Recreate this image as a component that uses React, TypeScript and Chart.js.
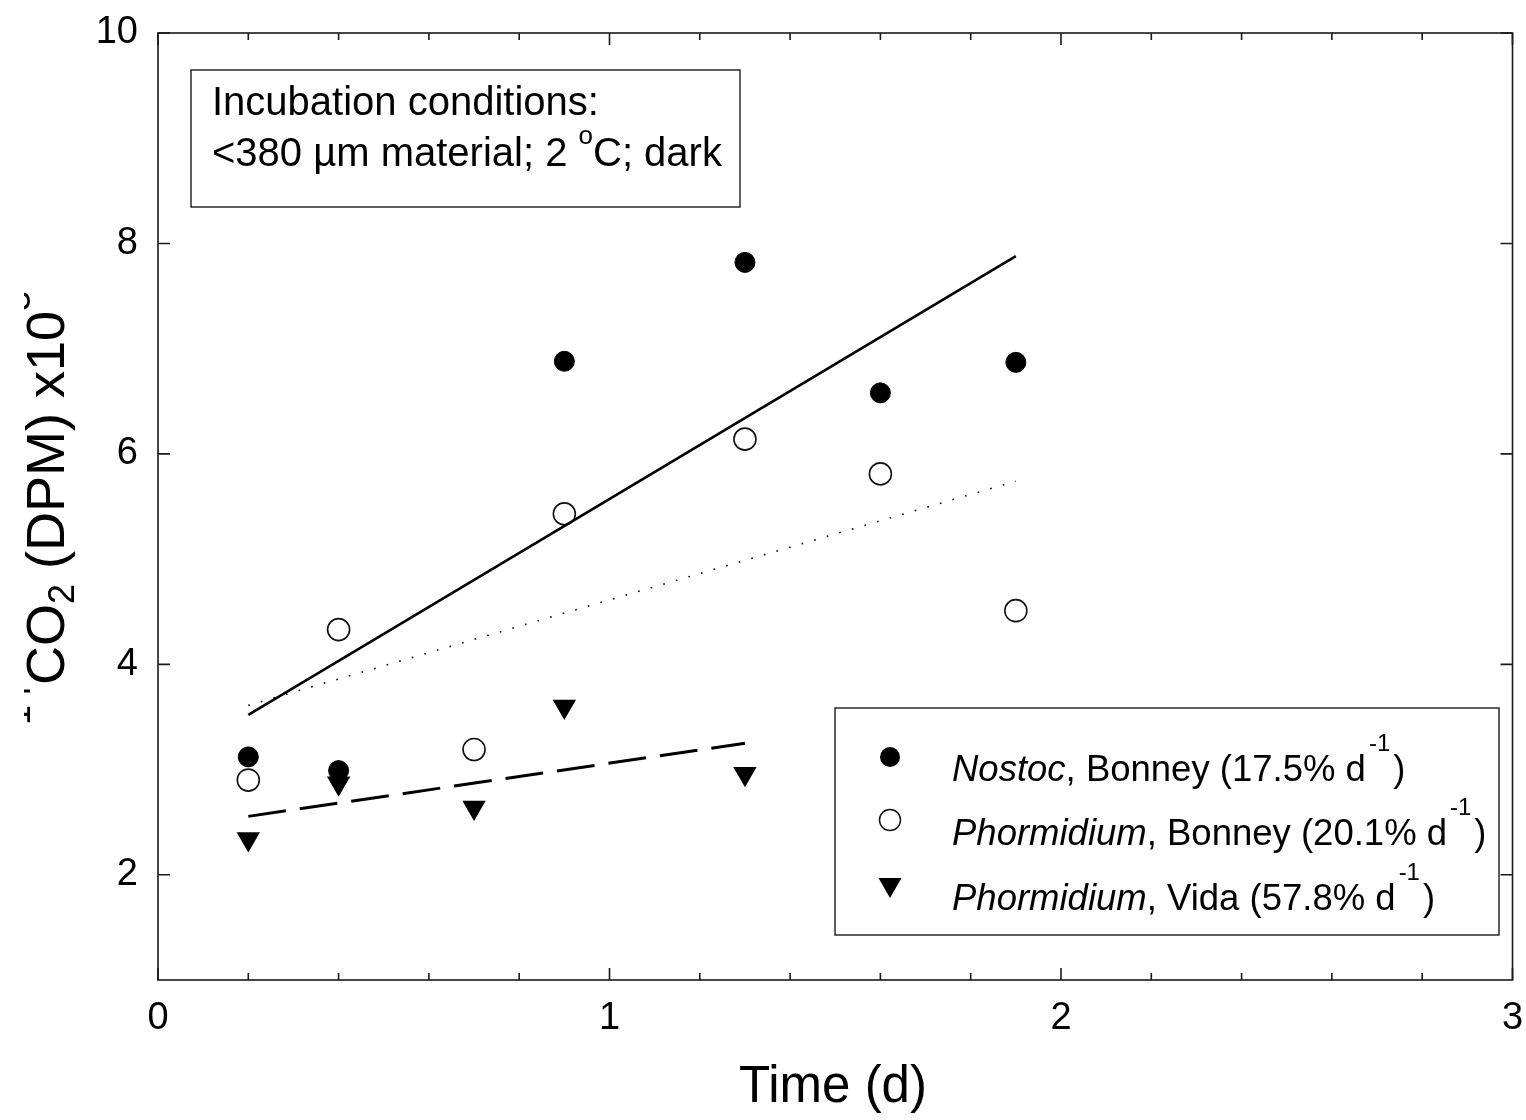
import React, { useEffect, useRef } from "react";
import { Chart, registerables } from "chart.js";

Chart.register(...registerables);

// ---- data ----
const timeNostoc = [0.2, 0.4, 0.9, 1.3, 1.6, 1.9];
const nostocBonney = [3.12, 2.99, 6.88, 7.82, 6.58, 6.87];

const timePhormBonney = [0.2, 0.4, 0.7, 0.9, 1.3, 1.6, 1.9];
const phormidiumBonney = [2.9, 4.33, 3.19, 5.43, 6.14, 5.81, 4.51];

const timeVida = [0.2, 0.4, 0.7, 0.9, 1.3];
const phormidiumVida = [2.34, 2.87, 2.64, 3.6, 2.96];

// regression lines (end points)
const fitNostocX = [0.2, 1.9];
const fitNostocY = [3.52, 7.88];
const fitPhormBonneyX = [0.2, 1.9];
const fitPhormBonneyY = [3.61, 5.74];
const fitVidaX = [0.2, 1.3];
const fitVidaY = [2.555, 3.25];

// axes
const xTickLabels = [0, 1, 2, 3];
const xMinorTicks = [0.2, 0.4, 0.6, 0.8, 1.2, 1.4, 1.6, 1.8, 2.2, 2.4, 2.6, 2.8];
const yTickLabels = [2, 4, 6, 8, 10];
const xRange = [0, 3];
const yRange = [1, 10];

const FONT = "'Liberation Sans', Arial, Helvetica, sans-serif";

type Part = { t: string; italic?: boolean; sup?: boolean; sub?: boolean; gap?: number };

function partFont(p: Part, size: number) {
  const s = p.sup || p.sub ? Math.round(size * 0.66) : size;
  return `${p.italic ? "italic " : ""}${s}px ${FONT}`;
}

function measureRich(ctx: CanvasRenderingContext2D, parts: Part[], size: number) {
  let w = 0;
  for (const p of parts) {
    ctx.font = partFont(p, size);
    w += ctx.measureText(p.t).width + (p.gap || 0);
  }
  return w;
}

function drawRich(
  ctx: CanvasRenderingContext2D,
  parts: Part[],
  x: number,
  y: number,
  size: number,
  supRaise = 0.62
) {
  let cx = x;
  ctx.textBaseline = "alphabetic";
  ctx.textAlign = "left";
  for (const p of parts) {
    ctx.font = partFont(p, size);
    let dy = 0;
    if (p.sup) dy = -size * supRaise;
    if (p.sub) dy = size * 0.18;
    cx += (p.gap || 0) / 2;
    ctx.fillText(p.t, cx, y + dy);
    cx += ctx.measureText(p.t).width + (p.gap || 0) / 2;
  }
  return cx;
}

const legendRows: { parts: Part[] }[] = [
  {
    parts: [
      { t: "Nostoc", italic: true },
      { t: ", Bonney (17.5% d" },
      { t: "-1", sup: true, gap: 6 },
      { t: ")" },
    ],
  },
  {
    parts: [
      { t: "Phormidium", italic: true },
      { t: ", Bonney (20.1% d" },
      { t: "-1", sup: true, gap: 6 },
      { t: ")" },
    ],
  },
  {
    parts: [
      { t: "Phormidium", italic: true },
      { t: ", Vida (57.8% d" },
      { t: "-1", sup: true, gap: 6 },
      { t: ")" },
    ],
  },
];

const noteLines: Part[][] = [
  [{ t: "Incubation conditions:" }],
  [{ t: "<380 \u00b5m material; 2 " }, { t: "o", sup: true }, { t: "C; dark" }],
];

const yTitle: Part[] = [
  { t: "14", sup: true },
  { t: "CO" },
  { t: "2", sub: true },
  { t: " (DPM) x10" },
  { t: "3", sup: true },
];

const xTitle = "Time (d)";

const decorPlugin = {
  id: "decor",
  afterDraw(chart: any) {
    const ctx: CanvasRenderingContext2D = chart.ctx;
    const { left, right, top, bottom } = chart.chartArea;
    const xs = chart.scales.x;
    const ys = chart.scales.y;
    ctx.save();

    // frame
    ctx.strokeStyle = "#1a1a1a";
    ctx.lineWidth = 1.6;
    ctx.strokeRect(left, top, right - left, bottom - top);

    // ticks (inside)
    ctx.beginPath();
    for (const v of xTickLabels) {
      const px = xs.getPixelForValue(v);
      ctx.moveTo(px, bottom);
      ctx.lineTo(px, bottom - 12);
      ctx.moveTo(px, top);
      ctx.lineTo(px, top + 12);
    }
    for (const v of xMinorTicks) {
      const px = xs.getPixelForValue(v);
      ctx.moveTo(px, bottom);
      ctx.lineTo(px, bottom - 7);
      ctx.moveTo(px, top);
      ctx.lineTo(px, top + 7);
    }
    for (const v of yTickLabels) {
      const py = ys.getPixelForValue(v);
      ctx.moveTo(left, py);
      ctx.lineTo(left + 12, py);
      ctx.moveTo(right, py);
      ctx.lineTo(right - 12, py);
    }
    ctx.stroke();

    // note box
    const nb = { x: 191, y: 70, w: 549, h: 137 };
    ctx.fillStyle = "#fff";
    ctx.fillRect(nb.x, nb.y, nb.w, nb.h);
    ctx.strokeStyle = "#1a1a1a";
    ctx.lineWidth = 1.4;
    ctx.strokeRect(nb.x, nb.y, nb.w, nb.h);
    ctx.fillStyle = "#000";
    drawRich(ctx, noteLines[0], 212, 115, 40);
    drawRich(ctx, noteLines[1], 212, 166, 40, 0.55);

    // legend box
    const lb = { x: 835, y: 708, w: 664, h: 227 };
    ctx.fillStyle = "#fff";
    ctx.fillRect(lb.x, lb.y, lb.w, lb.h);
    ctx.strokeStyle = "#1a1a1a";
    ctx.lineWidth = 1.4;
    ctx.strokeRect(lb.x, lb.y, lb.w, lb.h);
    const markerY = [757, 820, 887];
    const baseY = [781, 845, 910];
    const mx = 890;
    // filled circle
    ctx.fillStyle = "#000";
    ctx.beginPath();
    ctx.arc(mx, markerY[0], 10, 0, Math.PI * 2);
    ctx.fill();
    // open circle
    ctx.beginPath();
    ctx.arc(mx, markerY[1], 10.5, 0, Math.PI * 2);
    ctx.fillStyle = "#fff";
    ctx.fill();
    ctx.strokeStyle = "#111";
    ctx.lineWidth = 1.5;
    ctx.stroke();
    // down triangle
    ctx.fillStyle = "#000";
    ctx.beginPath();
    ctx.moveTo(mx - 11.5, markerY[2] - 9);
    ctx.lineTo(mx + 11.5, markerY[2] - 9);
    ctx.lineTo(mx, markerY[2] + 11);
    ctx.closePath();
    ctx.fill();
    ctx.fillStyle = "#000";
    for (let i = 0; i < legendRows.length; i++) {
      drawRich(ctx, legendRows[i].parts, 952, baseY[i], 36.5, 0.82);
    }

    // x title
    ctx.fillStyle = "#000";
    ctx.font = `51px ${FONT}`;
    ctx.textAlign = "center";
    ctx.textBaseline = "alphabetic";
    ctx.fillText(xTitle, 833, 1102);

    // y title (rotated, cut at the left like the reference)
    ctx.save();
    ctx.beginPath();
    ctx.rect(24, 0, 200, chart.height);
    ctx.clip();
    const ySize = 54;
    const yc = 508;
    ctx.translate(64, yc);
    ctx.rotate(-Math.PI / 2);
    const w = measureRich(ctx, yTitle, ySize);
    drawRich(ctx, yTitle, -w / 2, 0, ySize, 0.63);
    ctx.restore();

    ctx.restore();
  },
};

export default function App() {
  const ref = useRef<HTMLCanvasElement | null>(null);

  useEffect(() => {
    document.body.style.margin = "0";
    const canvas = ref.current;
    if (!canvas) return;

    const pts = (xs: number[], ys: number[]) => xs.map((x, i) => ({ x, y: ys[i] }));

    const chart = new Chart(canvas, {
      type: "scatter",
      data: {
        datasets: [
          {
            label: "fit Nostoc",
            type: "line",
            data: pts(fitNostocX, fitNostocY),
            borderColor: "#000",
            borderWidth: 2.6,
            pointRadius: 0,
            fill: false,
          } as any,
          {
            label: "fit Phormidium Bonney",
            type: "line",
            data: pts(fitPhormBonneyX, fitPhormBonneyY),
            borderColor: "#000",
            borderWidth: 1.6,
            borderDash: [1.6, 11.5],
            pointRadius: 0,
            fill: false,
          } as any,
          {
            label: "fit Phormidium Vida",
            type: "line",
            data: pts(fitVidaX, fitVidaY),
            borderColor: "#000",
            borderWidth: 3,
            borderDash: [38, 14],
            pointRadius: 0,
            fill: false,
          } as any,
          {
            label: "Phormidium, Vida",
            data: pts(timeVida, phormidiumVida),
            pointStyle: "triangle",
            rotation: 180,
            pointRadius: 13.5,
            backgroundColor: "#000",
            borderColor: "#000",
            borderWidth: 0,
          } as any,
          {
            label: "Phormidium, Bonney",
            data: pts(timePhormBonney, phormidiumBonney),
            pointStyle: "circle",
            pointRadius: 11,
            backgroundColor: "#fff",
            borderColor: "#111",
            borderWidth: 1.6,
          },
          {
            label: "Nostoc, Bonney",
            data: pts(timeNostoc, nostocBonney),
            pointStyle: "circle",
            pointRadius: 10,
            backgroundColor: "#000",
            borderColor: "#000",
            borderWidth: 1,
          },
        ],
      },
      options: {
        animation: false,
        responsive: false,
        events: [],
        layout: { padding: { top: 33, right: 13, left: 0, bottom: 0 } },
        plugins: {
          legend: { display: false },
          tooltip: { enabled: false },
          title: { display: false },
        },
        scales: {
          x: {
            type: "linear",
            min: xRange[0],
            max: xRange[1],
            grid: { display: false, drawTicks: false },
            border: { display: false },
            afterBuildTicks: (scale: any) => {
              scale.ticks = xTickLabels.map((v) => ({ value: v }));
            },
            afterFit: (scale: any) => {
              scale.height = 140;
              scale.paddingLeft = 0;
              scale.paddingRight = 0;
            },
            ticks: {
              padding: 16,
              color: "#000",
              font: { family: FONT, size: 38 },
              maxRotation: 0,
              autoSkip: false,
            },
          },
          y: {
            type: "linear",
            min: yRange[0],
            max: yRange[1],
            grid: { display: false, drawTicks: false },
            border: { display: false },
            afterBuildTicks: (scale: any) => {
              scale.ticks = yTickLabels.map((v) => ({ value: v }));
            },
            afterFit: (scale: any) => {
              scale.width = 158;
              scale.paddingTop = 0;
              scale.paddingBottom = 0;
            },
            ticks: {
              padding: 20,
              color: "#000",
              font: { family: FONT, size: 38 },
              autoSkip: false,
            },
          },
        },
      },
      plugins: [decorPlugin],
    });

    return () => chart.destroy();
  }, []);

  return (
    <div style={{ width: 1526, height: 1120, position: "relative" }}>
      <canvas ref={ref} width={1526} height={1120} style={{ display: "block" }} />
    </div>
  );
}
